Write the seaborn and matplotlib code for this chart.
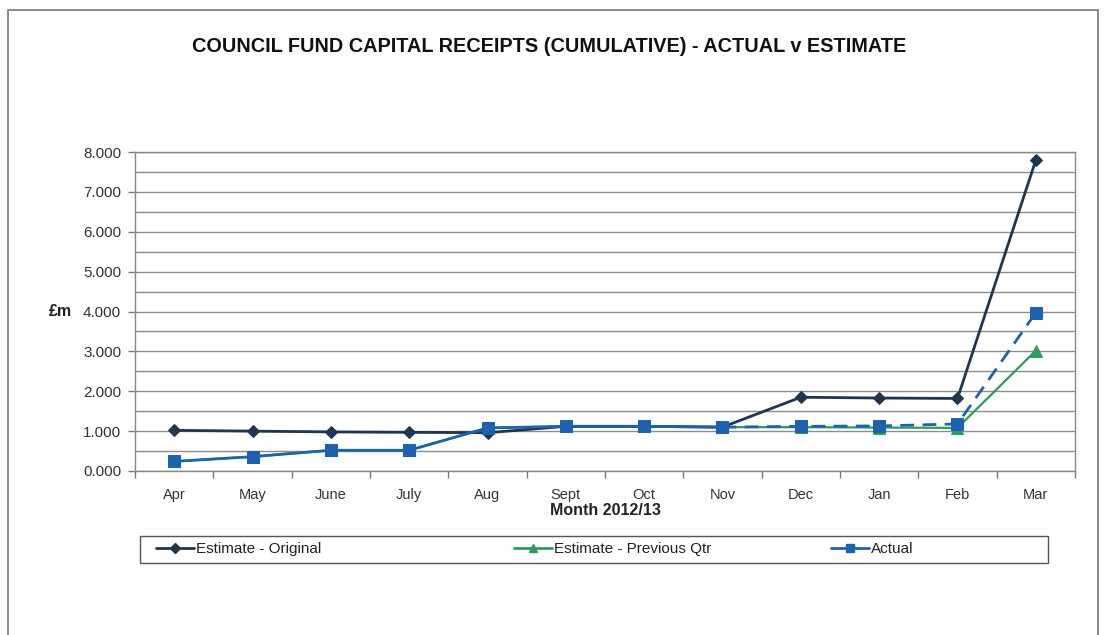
import matplotlib
matplotlib.use("Agg")
import matplotlib.pyplot as plt
import seaborn as sns
import pandas as pd
import numpy as np
from matplotlib.patches import Rectangle
from matplotlib.ticker import MultipleLocator, FormatStrFormatter
from matplotlib.lines import Line2D

months = ["Apr", "May", "June", "July", "Aug", "Sept", "Oct", "Nov", "Dec", "Jan", "Feb", "Mar"]
estimate_original = [1.02, 1.00, 0.98, 0.97, 0.96, 1.12, 1.12, 1.10, 1.85, 1.83, 1.82, 7.80]
estimate_prev_qtr = [0.24, 0.36, 0.52, 0.52, 1.08, 1.12, 1.12, 1.10, 1.10, 1.09, 1.08, 3.02]
actual = [0.24, 0.36, 0.52, 0.52, 1.08, 1.12, 1.12, 1.10, 1.12, 1.13, 1.18, 3.97]
actual_last = 7  # index of last actual (solid) month; dashed afterwards

sns.set_theme(style="white")
plt.rcParams['font.family'] = ['Liberation Sans', 'DejaVu Sans']

c_orig = "#1f3550"
c_prev = "#2e9a5e"
c_act = "#1c62ad"

fig = plt.figure(figsize=(11.11, 6.35), dpi=100)
ax = fig.add_axes([135/1111, 1-471/635, (1075-135)/1111, (471-152)/635])

x = np.arange(len(months))
df = pd.DataFrame({"x": x, "orig": estimate_original, "prev": estimate_prev_qtr, "act": actual})

sns.lineplot(data=df, x="x", y="prev", ax=ax, color=c_prev, lw=1.6, marker="^",
             markersize=8, markeredgecolor=c_prev, zorder=3)
sns.lineplot(data=df, x="x", y="orig", ax=ax, color=c_orig, lw=2.0, marker="D",
             markersize=6, markeredgecolor=c_orig, zorder=4)
sns.lineplot(data=df.iloc[actual_last:], x="x", y="act", ax=ax, color=c_act, lw=2.0,
             marker="s", markersize=9, markeredgecolor=c_act, zorder=5)
ax.lines[-1].set_dashes((5, 3))
sns.lineplot(data=df.iloc[:actual_last + 1], x="x", y="act", ax=ax, color=c_act, lw=2.0,
             marker="s", markersize=9, markeredgecolor=c_act, zorder=5)

ax.set_xlim(-0.5, len(months) - 0.5)
ax.set_ylim(0, 8)
ax.yaxis.set_major_locator(MultipleLocator(1))
ax.yaxis.set_minor_locator(MultipleLocator(0.5))
ax.yaxis.set_major_formatter(FormatStrFormatter("%.3f"))
ax.grid(which="both", axis="y", color="#8c8c8c", lw=1.0)
ax.set_axisbelow(True)
ax.set_xticks(x)
ax.set_xticklabels(months)
ax.set_xticks(np.arange(-0.5, len(months)), minor=True)
ax.tick_params(axis="x", which="major", length=0, pad=12, labelsize=10.5, labelcolor="#333333")
ax.tick_params(axis="x", which="minor", length=5, width=1, color="#777777", direction="out", bottom=True)
ax.tick_params(axis="y", which="major", length=5, width=1, color="#777777", direction="out",
               left=True, labelsize=11, labelcolor="#333333", pad=5)
ax.tick_params(axis="y", which="minor", length=0)
for s in ax.spines.values():
    s.set_color("#888888")
    s.set_linewidth(1.0)

ax.set_xlabel("Month 2012/13", fontsize=11.5, fontweight="bold", color="#222222", labelpad=1)
ax.set_ylabel("")
fig.text(60/1111, 1-312/635, "£m", fontsize=11.5, fontweight="bold", color="#222222",
         ha="center", va="center")

fig.text(549/1111, 1-46/635, "COUNCIL FUND CAPITAL RECEIPTS (CUMULATIVE) - ACTUAL v ESTIMATE",
         fontsize=14.3, fontweight="bold", color="#111111", ha="center", va="center")

# outer frame
fig.patches.append(Rectangle((8/1111, -0.05), (1098-8)/1111, 1.05 - 10/635,
                             transform=fig.transFigure, fill=False, edgecolor="#777777", lw=1.2))

# legend frame
fig.patches.append(Rectangle((140/1111, 1-563/635), (1048-140)/1111, 27/635,
                             transform=fig.transFigure, fill=False, edgecolor="#555555", lw=1.0))

handles = [
    Line2D([], [], color=c_orig, lw=2, marker="D", markersize=5),
    Line2D([], [], color=c_prev, lw=2, marker="^", markersize=6),
    Line2D([], [], color=c_act, lw=2, marker="s", markersize=6),
]
labels = ["Estimate - Original", "Estimate - Previous Qtr", "Actual"]
starts = [156, 514, 831]
for h, l, sx in zip(handles, labels, starts):
    lg = fig.legend([h], [l], loc="center left", bbox_to_anchor=(sx/1111, 1-549/635),
                    bbox_transform=fig.transFigure, frameon=False, fontsize=11,
                    handlelength=2.5, handletextpad=0.1, borderpad=0, borderaxespad=0)
    for t in lg.get_texts():
        t.set_color("#222222")

fig.savefig("out.png", dpi=100)
